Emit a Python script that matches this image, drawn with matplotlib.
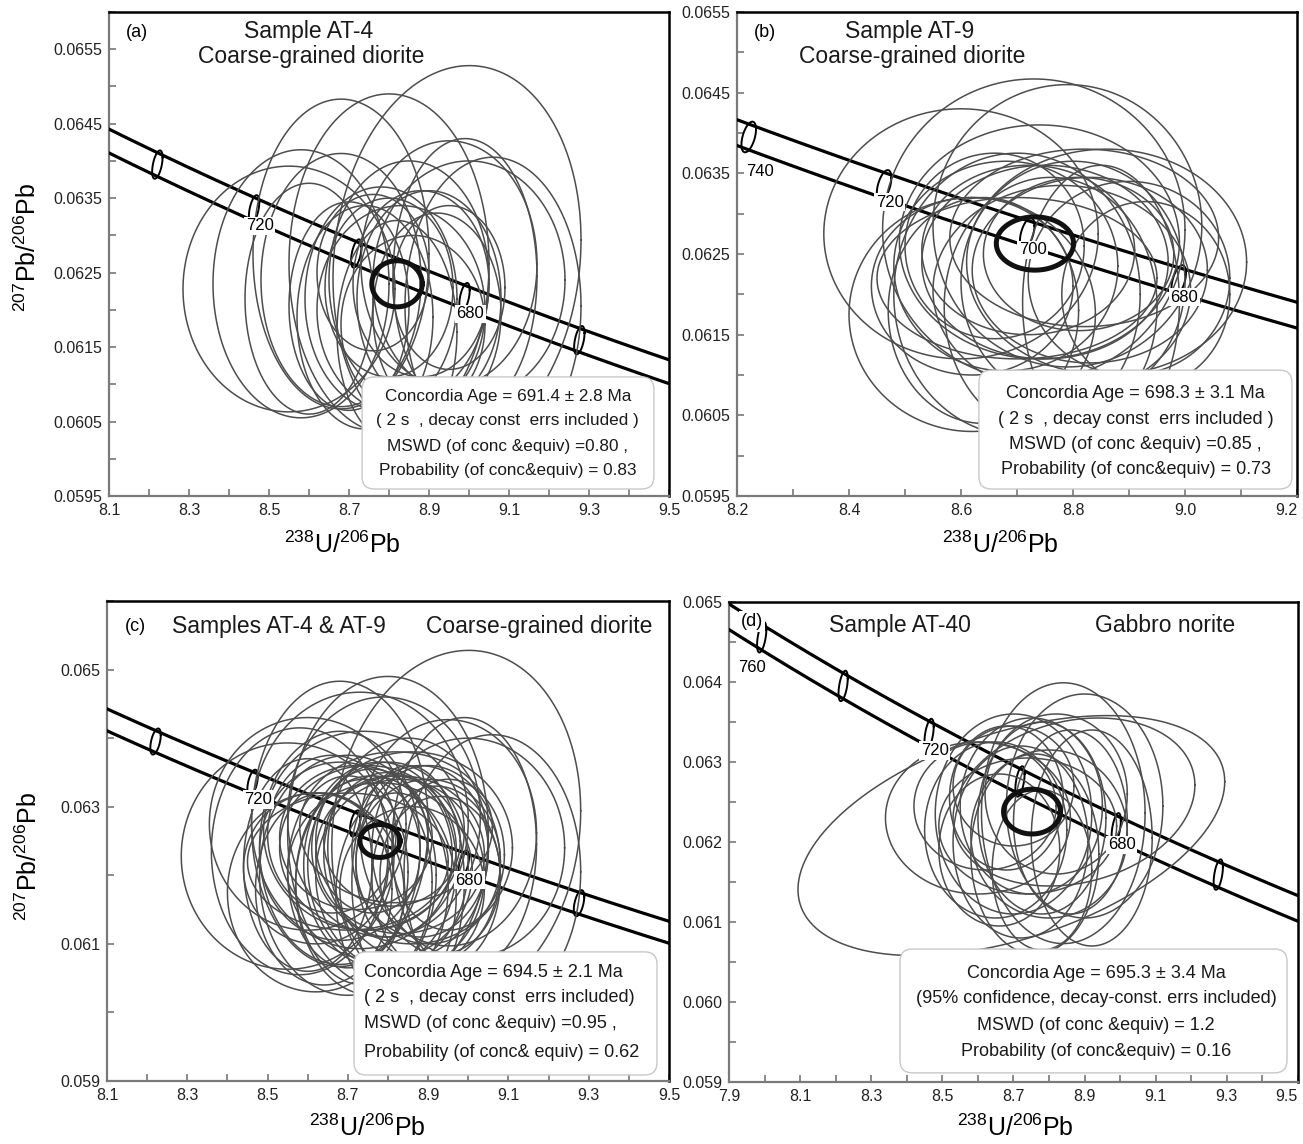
import numpy as np
import matplotlib
matplotlib.use('Agg')
import matplotlib.pyplot as plt
from matplotlib.patches import FancyBboxPatch
from matplotlib.ticker import FixedLocator, FormatStrFormatter

plt.rcParams['font.family'] = ['Liberation Sans', 'DejaVu Sans']
plt.rcParams['mathtext.fontset'] = 'custom'
plt.rcParams['mathtext.rm'] = 'Liberation Sans'

# decay constants
L238 = 1.55125e-10
L235 = 9.8485e-10
U85 = 137.88
BAND = 0.00016  # half width of decay-constant band

# spot ellipses: (238U/206Pb, 207Pb/206Pb, half width, half height, rho)
at4 = [
    (8.97, 0.06268, 0.31, 0.00260, 0.1),
    (8.68, 0.06275, 0.22, 0.00208, 0.0),
    (8.80, 0.06262, 0.25, 0.00228, 0.0),
    (8.55, 0.06228, 0.265, 0.00165, 0.0),
    (9.06, 0.06205, 0.22, 0.00200, 0.0),
    (8.95, 0.06262, 0.22, 0.00165, 0.0),
    (8.68, 0.06240, 0.20, 0.00170, 0.0),
    (8.85, 0.06240, 0.20, 0.00160, 0.0),
    (8.78, 0.06215, 0.19, 0.00150, 0.0),
    (8.90, 0.06215, 0.18, 0.00145, 0.0),
    (8.83, 0.06200, 0.21, 0.00140, 0.0),
    (8.74, 0.06190, 0.17, 0.00150, 0.0),
    (8.88, 0.06235, 0.17, 0.00125, 0.0),
    (8.80, 0.06230, 0.16, 0.00120, 0.0),
    (8.92, 0.06195, 0.16, 0.00135, 0.0),
    (8.70, 0.06205, 0.15, 0.00140, 0.0),
    (8.86, 0.06180, 0.18, 0.00120, 0.0),
    (8.95, 0.06230, 0.14, 0.00110, 0.0),
    (8.76, 0.06250, 0.14, 0.00105, 0.0),
    (8.60, 0.06215, 0.16, 0.00155, 0.0),
    (8.82, 0.06170, 0.15, 0.00150, 0.0),
    (8.99, 0.06245, 0.18, 0.00185, 0.0),
    (8.58, 0.06235, 0.22, 0.00180, 0.0),
    (9.00, 0.06240, 0.24, 0.00160, 0.0),
]

at9 = [
    (8.73, 0.06280, 0.27, 0.00187, 0.0),
    (8.79, 0.06285, 0.24, 0.00175, 0.0),
    (8.60, 0.06275, 0.245, 0.00155, 0.0),
    (8.86, 0.06240, 0.25, 0.00140, 0.0),
    (8.82, 0.06270, 0.24, 0.00110, 0.0),
    (8.70, 0.06200, 0.22, 0.00175, 0.0),
    (8.64, 0.06180, 0.17, 0.00140, 0.0),
    (8.80, 0.06215, 0.20, 0.00150, 0.0),
    (8.75, 0.06240, 0.22, 0.00120, 0.0),
    (8.72, 0.06255, 0.19, 0.00105, 0.0),
    (8.83, 0.06230, 0.21, 0.00115, 0.0),
    (8.68, 0.06235, 0.20, 0.00130, 0.0),
    (8.78, 0.06205, 0.23, 0.00130, 0.0),
    (8.90, 0.06220, 0.18, 0.00120, 0.0),
    (8.66, 0.06260, 0.16, 0.00115, 0.0),
    (8.76, 0.06185, 0.19, 0.00160, 0.0),
    (8.85, 0.06190, 0.14, 0.00170, 0.0),
    (8.62, 0.06210, 0.18, 0.00110, 0.0),
    (8.74, 0.06265, 0.25, 0.00145, 0.0),
    (8.93, 0.06200, 0.15, 0.00115, 0.0),
    (8.70, 0.06220, 0.25, 0.00100, 0.0),
    (8.81, 0.06250, 0.17, 0.00095, 0.0),
    (8.62, 0.06175, 0.22, 0.00145, 0.0),
]

at40 = [
    (8.694, 0.06208, 0.60, 0.00150, 0.45),
    (8.84, 0.06236, 0.23, 0.00163, 0.0),
    (8.87, 0.06250, 0.34, 0.00105, 0.2),
    (8.60, 0.06230, 0.26, 0.00095, 0.0),
    (8.70, 0.06235, 0.22, 0.00125, 0.0),
    (8.75, 0.06245, 0.20, 0.00110, 0.0),
    (8.65, 0.06215, 0.20, 0.00110, 0.0),
    (8.78, 0.06230, 0.18, 0.00120, 0.0),
    (8.72, 0.06200, 0.19, 0.00120, 0.0),
    (8.92, 0.06205, 0.17, 0.00135, 0.0),
    (8.76, 0.06185, 0.18, 0.00125, 0.0),
    (8.68, 0.06255, 0.16, 0.00090, 0.0),
    (8.82, 0.06260, 0.20, 0.00100, 0.0),
    (8.62, 0.06245, 0.20, 0.00080, 0.0),
    (8.80, 0.06210, 0.22, 0.00105, 0.0),
    (8.70, 0.06270, 0.17, 0.00075, 0.0),
    (8.86, 0.06225, 0.16, 0.00115, 0.0),
    (8.74, 0.06220, 0.25, 0.00085, 0.0),
    (8.66, 0.06190, 0.17, 0.00095, 0.0),
    (8.90, 0.06245, 0.22, 0.00140, 0.0),
    (8.78, 0.06165, 0.14, 0.00100, 0.0),
]

# concordia age ellipses
conc_a = (8.82, 0.06235, 0.063, 0.00031, 0.0)
conc_b = (8.732, 0.06263, 0.069, 0.00033, 0.0)
conc_c = (8.78, 0.06250, 0.050, 0.00024, 0.0)
conc_d = (8.752, 0.06238, 0.080, 0.00028, 0.0)

marker_ages = [640, 660, 680, 700, 720, 740, 760, 780]
labels_a = [720, 680]
labels_b = [740, 720, 700, 680]
labels_c = [720, 680]
labels_d = [760, 720, 680]

# tick labels
xt_a = [8.1, 8.3, 8.5, 8.7, 8.9, 9.1, 9.3, 9.5]
xt_b = [8.2, 8.4, 8.6, 8.8, 9.0, 9.2]
xt_d = [7.9, 8.1, 8.3, 8.5, 8.7, 8.9, 9.1, 9.3, 9.5]
yt_a = [0.0595, 0.0605, 0.0615, 0.0625, 0.0635, 0.0645, 0.0655]
yt_c = [0.059, 0.061, 0.063, 0.065]
yt_d = [0.059, 0.060, 0.061, 0.062, 0.063, 0.064, 0.065]

text_a = ['Concordia Age = 691.4 ± 2.8 Ma', '( 2 s  , decay const  errs included )',
          'MSWD (of conc &equiv) =0.80 ,', 'Probability (of conc&equiv) = 0.83']
text_b = ['Concordia Age = 698.3 ± 3.1 Ma', '( 2 s  , decay const  errs included )',
          'MSWD (of conc &equiv) =0.85 ,', 'Probability (of conc&equiv) = 0.73']
text_c = ['Concordia Age = 694.5 ± 2.1 Ma', '( 2 s  , decay const  errs included)',
          'MSWD (of conc &equiv) =0.95 ,', 'Probability (of conc& equiv) = 0.62']
text_d = ['Concordia Age = 695.3 ± 3.4 Ma', '(95% confidence, decay-const. errs included)',
          'MSWD (of conc &equiv) = 1.2', 'Probability (of conc&equiv) = 0.16']


def concordia(t_ma):
    t = np.asarray(t_ma) * 1e6
    e8 = np.expm1(L238 * t)
    e5 = np.expm1(L235 * t)
    return 1.0 / e8, e5 / e8 / U85


def ellipse_xy(cx, cy, sx, sy, rho, n=160):
    th = np.linspace(0, 2 * np.pi, n)
    x = cx + sx * np.cos(th)
    y = cy + sy * (rho * np.cos(th) + np.sqrt(1 - rho ** 2) * np.sin(th))
    return x, y


def minor_between(ticks, lo, hi):
    step = ticks[1] - ticks[0]
    vals = np.arange(ticks[0] - step / 2, ticks[-1] + step, step)
    return [v for v in vals if lo - 1e-9 <= v <= hi + 1e-9]


fig = plt.figure(figsize=(13.03, 11.44), dpi=100)

panels = [
    dict(rect=[0.08365, 0.56643, 0.42978, 0.42308], px=(560, 484),
         xlim=(8.1, 9.5), ylim=(0.0595, 0.0660), xt=xt_a, yt=yt_a, yfmt='%.4f',
         ell=at4, conc=conc_a, labels=labels_a, text=text_a, tag=('(a)', 0.05, 0.957),
         titles=[('Sample AT-4', 0.357, 0.960), ('Coarse-grained diorite', 0.361, 0.909)],
         box=(0.452, 0.0145, 0.973, 0.246), ty=[0.2066, 0.155, 0.103, 0.0537], tx=0.712,
         tha='center', tfs=12.3, xlab=(0.416, -0.100), ylab=(-0.145, 0.514), last_right=False),
    dict(rect=[0.56562, 0.56643, 0.42978, 0.42308], px=(560, 484),
         xlim=(8.2, 9.2), ylim=(0.0595, 0.0655), xt=xt_b, yt=yt_a, yfmt='%.4f',
         ell=at9, conc=conc_b, labels=labels_b, text=text_b, tag=('(b)', 0.05, 0.957),
         titles=[('Sample AT-9', 0.309, 0.960), ('Coarse-grained diorite', 0.3125, 0.909)],
         box=(0.432, 0.0145, 0.991, 0.260), ty=[0.2128, 0.159, 0.107, 0.054], tx=0.712,
         tha='center', tfs=13, xlab=(0.470, -0.100), ylab=None, last_right=True),
    dict(rect=[0.08212, 0.05507, 0.43131, 0.41958], px=(562, 480),
         xlim=(8.1, 9.5), ylim=(0.059, 0.066), xt=xt_a, yt=yt_c, yfmt='%.3f',
         ell=at4 + at9, conc=conc_c, labels=labels_c, text=text_c, tag=('(c)', 0.05, 0.946),
         titles=[('Samples AT-4 & AT-9', 0.306, 0.946), ('Coarse-grained diorite', 0.769, 0.946)],
         box=(0.4395, 0.0125, 0.9786, 0.269), ty=[0.227, 0.174, 0.119, 0.060], tx=0.457,
         tha='left', tfs=13, xlab=(0.464, -0.098), ylab=(-0.139, 0.467), last_right=False),
    dict(rect=[0.55948, 0.05420, 0.43668, 0.41958], px=(569, 480),
         xlim=(7.9, 9.5), ylim=(0.059, 0.065), xt=xt_d, yt=yt_d, yfmt='%.3f',
         ell=at40, conc=conc_d, labels=labels_d, text=text_d, tag=('(d)', 0.04, 0.960),
         titles=[('Sample AT-40', 0.300, 0.952), ('Gabbro norite', 0.766, 0.952)],
         box=(0.3005, 0.019, 0.9807, 0.277), ty=[0.227, 0.173, 0.117, 0.0625], tx=0.645,
         tha='center', tfs=13, xlab=(0.503, -0.096), ylab=None, last_right=True),
]

label_offsets = {740: (8, -25), 760: (-7, -22)}

for p in panels:
    ax = fig.add_axes(p['rect'])
    ax.set_xlim(*p['xlim'])
    ax.set_ylim(*p['ylim'])

    # concordia band
    tt = np.linspace(560, 820, 400)
    cx, cy = concordia(tt)
    ax.plot(cx, cy + BAND, color='black', lw=2.3, zorder=3)
    ax.plot(cx, cy - BAND, color='black', lw=2.3, zorder=3)

    # age markers
    for age in marker_ages:
        mx, my = concordia(age)
        ex, ey = ellipse_xy(mx, my, 0.013, 0.00019, 0.5, 60)
        ax.plot(ex, ey, color='black', lw=1.4, zorder=3)

    # spot ellipses
    for e in p['ell']:
        ex, ey = ellipse_xy(*e)
        ax.plot(ex, ey, color='#4d4d4d', lw=1.1, zorder=4)

    # concordia age ellipse
    ex, ey = ellipse_xy(*p['conc'])
    ax.plot(ex, ey, color='#111111', lw=3.6, zorder=6)

    for age in p['labels']:
        mx, my = concordia(age)
        off = label_offsets.get(age, (4, -12))
        ax.annotate(str(age), xy=(mx, my), xytext=off, textcoords='offset points',
                    ha='center', va='center', fontsize=12, zorder=7,
                    bbox=dict(boxstyle='square,pad=0.1', fc='white', ec='none'))

    # result box
    x0, y0, x1, y1 = p['box']
    w_px, h_px = p['px']
    ax.add_patch(FancyBboxPatch((x0, y0), x1 - x0, y1 - y0, transform=ax.transAxes,
                                boxstyle='round,pad=0,rounding_size=0.022',
                                mutation_aspect=w_px / h_px,
                                fc='white', ec='#c8c8c8', lw=1.0, zorder=9))
    for s, yy in zip(p['text'], p['ty']):
        ax.text(p['tx'], yy, s, transform=ax.transAxes, ha=p['tha'], va='center',
                fontsize=p['tfs'], color='#1a1a1a', zorder=10)

    # titles
    tag, tgx, tgy = p['tag']
    ax.text(tgx, tgy, tag, transform=ax.transAxes, ha='center', va='center', fontsize=13,
            zorder=10, bbox=dict(boxstyle='square,pad=0.1', fc='white', ec='none'))
    for s, xx, yy in p['titles']:
        ax.text(xx, yy, s, transform=ax.transAxes, ha='center', va='center',
                fontsize=16.5, color='#1a1a1a', zorder=10)

    # axis labels
    xl = p['xlab']
    ax.text(xl[0], xl[1], r'$^{238}$U/$^{206}$Pb', transform=ax.transAxes,
            ha='center', va='center', fontsize=18)
    if p['ylab'] is not None:
        yl = p['ylab']
        ax.text(yl[0], yl[1], r'$^{207}$Pb/$^{206}$Pb', transform=ax.transAxes,
                ha='center', va='center', fontsize=18, rotation=90)

    # ticks and spines
    ax.xaxis.set_major_locator(FixedLocator(p['xt']))
    ax.xaxis.set_minor_locator(FixedLocator(minor_between(p['xt'], *p['xlim'])))
    ax.xaxis.set_major_formatter(FormatStrFormatter('%.1f'))
    ax.yaxis.set_major_locator(FixedLocator(p['yt']))
    ax.yaxis.set_minor_locator(FixedLocator(minor_between(p['yt'], *p['ylim'])))
    ax.yaxis.set_major_formatter(FormatStrFormatter(p['yfmt']))
    ax.tick_params(which='both', direction='in', length=5, width=1.2, color='#777777',
                   labelsize=11.5, labelcolor='#222222', pad=5)
    for side in ['left', 'bottom']:
        ax.spines[side].set_color('#7a7a7a')
        ax.spines[side].set_linewidth(1.6)
    for side in ['top', 'right']:
        ax.spines[side].set_color('black')
        ax.spines[side].set_linewidth(1.8)
    if p['last_right']:
        ax.get_xticklabels()[-1].set_horizontalalignment('right')

fig.savefig('out.png', dpi=100)
